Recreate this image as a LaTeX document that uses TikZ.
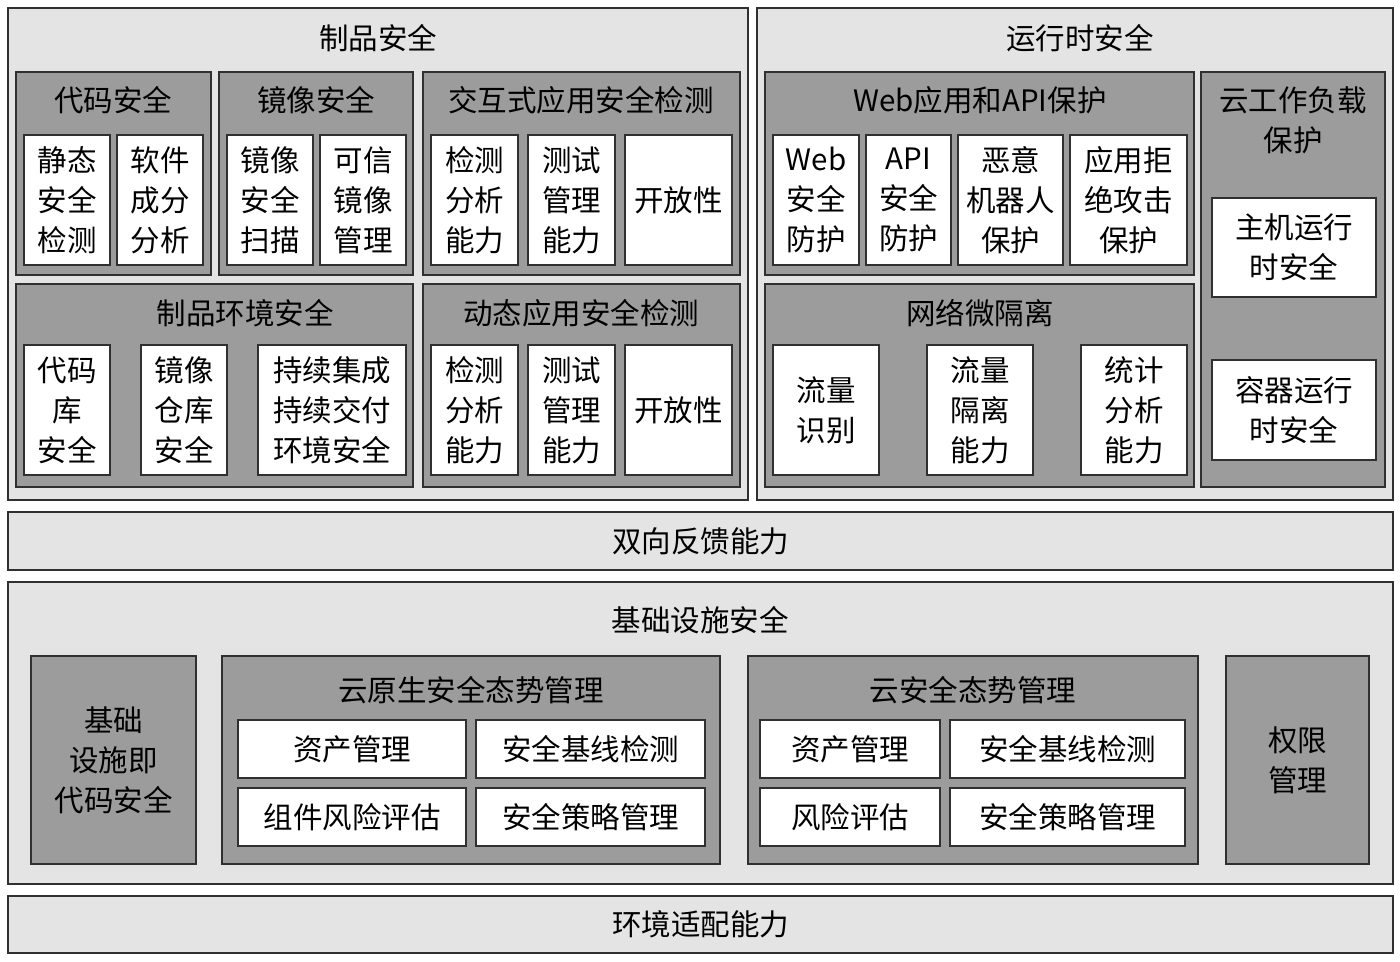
\documentclass[tikz,border=0pt]{standalone}
\usepackage{fontspec}
\setmainfont{Noto Sans CJK SC}
\definecolor{lightg}{HTML}{E4E4E4}
\definecolor{midg}{HTML}{9C9C9C}
\definecolor{edge}{HTML}{303030}
\newcommand\bx[7]{\node[#6, minimum width={#4-#2}, minimum height={#5-#3}] (#1) at ({(#2+#4)/2},{(#3+#5)/2}) {#7};}
\begin{document}
\begin{tikzpicture}[x=1pt,y=-1pt,
  every node/.style={inner sep=0pt,outer sep=0pt,font=\fontsize{29.5}{40}\selectfont,align=center,text=black},
  sect/.style={draw=edge,line width=2.2pt,fill=lightg},
  grp/.style={draw=edge,line width=2pt,fill=midg},
  leaf/.style={draw=edge,line width=2pt,fill=white}]
\useasboundingbox (0,0) rectangle (1400,961);
\fill[white] (0,0) rectangle (1400,961);
% top left
\bx{s1}{8}{8}{748}{500}{sect}{}
\node (s1t) at (378,38) {制品安全};
\bx{g1}{16}{72}{211}{275}{grp}{}
\node (g1t) at (113,100) {代码安全};
\bx{l11}{24}{135}{110}{265}{leaf}{静态\\安全\\检测}
\bx{l12}{117}{135}{203}{265}{leaf}{软件\\成分\\分析}
\bx{g2}{219}{72}{413}{275}{grp}{}
\node (g2t) at (316,100) {镜像安全};
\bx{l21}{227}{135}{313}{265}{leaf}{镜像\\安全\\扫描}
\bx{l22}{320}{135}{406}{265}{leaf}{可信\\镜像\\管理}
\bx{g3}{423}{72}{740}{275}{grp}{}
\node (g3t) at (581,100) {交互式应用安全检测};
\bx{l31}{431}{135}{518}{265}{leaf}{检测\\分析\\能力}
\bx{l32}{528}{135}{615}{265}{leaf}{测试\\管理\\能力}
\bx{l33}{625}{135}{732}{265}{leaf}{开放性}
\bx{g4}{16}{284}{413}{487}{grp}{}
\node (g4t) at (245,313) {制品环境安全};
\bx{l41}{24}{345}{110}{475}{leaf}{代码\\库\\安全}
\bx{l42}{141}{345}{227}{475}{leaf}{镜像\\仓库\\安全}
\bx{l43}{258}{345}{406}{475}{leaf}{持续集成\\持续交付\\环境安全}
\bx{g5}{423}{284}{740}{487}{grp}{}
\node (g5t) at (581,313) {动态应用安全检测};
\bx{l51}{431}{345}{518}{475}{leaf}{检测\\分析\\能力}
\bx{l52}{528}{345}{615}{475}{leaf}{测试\\管理\\能力}
\bx{l53}{625}{345}{732}{475}{leaf}{开放性}
% top right
\bx{s2}{757}{8}{1393}{500}{sect}{}
\node (s2t) at (1080,38) {运行时安全};
\bx{g6}{765}{72}{1194}{275}{grp}{}
\node (g6t) at (980,100) {Web应用和API保护};
\bx{l61}{773}{135}{859}{265}{leaf}{Web\\安全\\防护}
\bx{l62}{866}{135}{951}{265}{leaf}{API\\安全\\防护}
\bx{l63}{958}{135}{1063}{265}{leaf}{恶意\\机器人\\保护}
\bx{l64}{1070}{135}{1187}{265}{leaf}{应用拒\\绝攻击\\保护}
\bx{g7}{765}{284}{1194}{487}{grp}{}
\node (g7t) at (980,313) {网络微隔离};
\bx{l71}{773}{345}{879}{475}{leaf}{流量\\识别}
\bx{l72}{927}{345}{1033}{475}{leaf}{流量\\隔离\\能力}
\bx{l73}{1081}{345}{1187}{475}{leaf}{统计\\分析\\能力}
\bx{g8}{1201}{72}{1385}{487}{grp}{}
\node (g8t) at (1293,120) {云工作负载\\保护};
\bx{l81}{1212}{198}{1376}{297}{leaf}{主机运行\\时安全}
\bx{l82}{1212}{360}{1376}{460}{leaf}{容器运行\\时安全}
% bands
\bx{b1}{8}{512}{1393}{570}{sect}{双向反馈能力}
\bx{s3}{8}{582}{1393}{884}{sect}{}
\node (s3t) at (700,620) {基础设施安全};
\bx{g9}{31}{656}{196}{864}{grp}{基础\\设施即\\代码安全}
\bx{g10}{222}{656}{720}{864}{grp}{}
\node (g10t) at (471,690) {云原生安全态势管理};
\bx{l101}{238}{720}{466}{778}{leaf}{资产管理}
\bx{l102}{476}{720}{705}{778}{leaf}{安全基线检测}
\bx{l103}{238}{788}{466}{846}{leaf}{组件风险评估}
\bx{l104}{476}{788}{705}{846}{leaf}{安全策略管理}
\bx{g11}{748}{656}{1198}{864}{grp}{}
\node (g11t) at (973,690) {云安全态势管理};
\bx{l111}{760}{720}{940}{778}{leaf}{资产管理}
\bx{l112}{950}{720}{1185}{778}{leaf}{安全基线检测}
\bx{l113}{760}{788}{940}{846}{leaf}{风险评估}
\bx{l114}{950}{788}{1185}{846}{leaf}{安全策略管理}
\bx{g12}{1226}{656}{1369}{864}{grp}{权限\\管理}
\bx{b2}{8}{896}{1393}{953}{sect}{环境适配能力}
\end{tikzpicture}
\end{document}
